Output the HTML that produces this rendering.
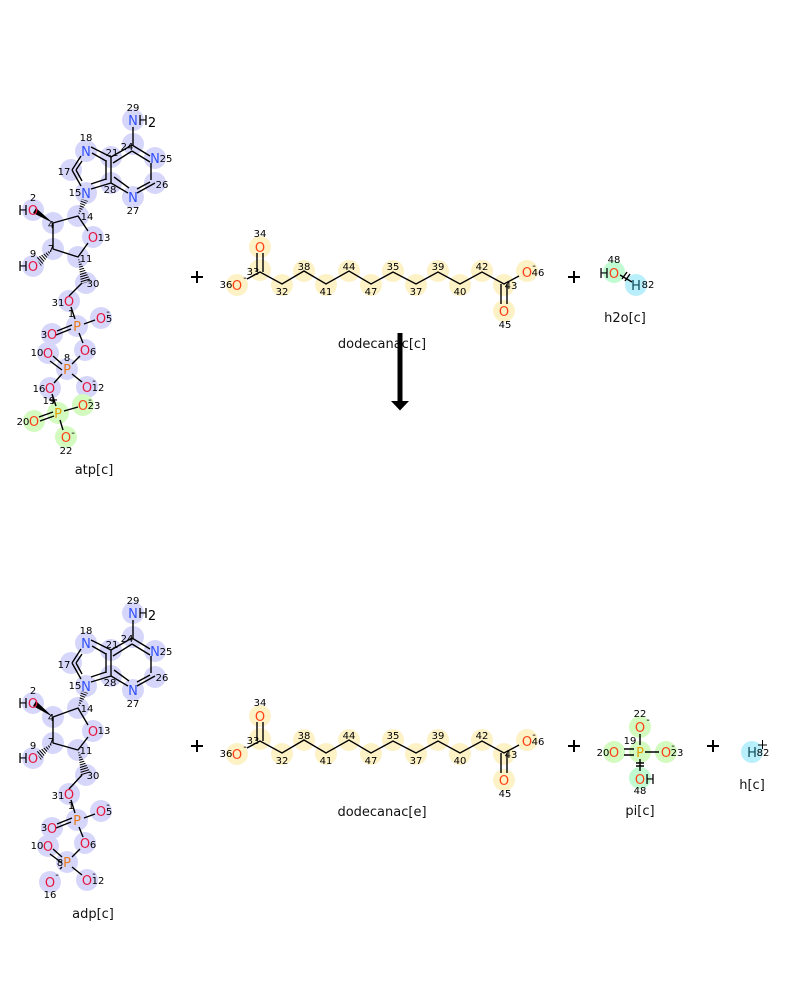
<!DOCTYPE html>
<html><head><meta charset="utf-8">
<style>
html,body{margin:0;padding:0;background:#fff}
svg{display:block}
text{font-family:"DejaVu Sans","Liberation Sans",sans-serif;text-anchor:middle}
circle{r:11px}
.i{font-size:10px;fill:#000}
.s{font-size:13px}
.s text{font-size:13px}
.o{fill:#e6173f}.y{fill:#ff3f14}.n{fill:#3050f8}.p{fill:#e87a1c}.g{fill:#e0a000}.k{fill:#000}.t{fill:#0b4a5a}
.l{font-size:13px;fill:#111}
.b{stroke:#000;stroke-width:1.4;fill:none}
.c1 circle{fill:#d6d6fb}.c2 circle{fill:#fdf1c6}.c3 circle{fill:#d3fbbf}
</style></head><body>
<svg width="800" height="1000" viewBox="0 0 800 1000" xmlns="http://www.w3.org/2000/svg">
<rect width="800" height="1000" fill="#fff"/>
<defs>
<clipPath id="w1"><polygon points="78,216 81,199 88,201"/></clipPath>
<clipPath id="w2"><polygon points="53,249 36,258 41,266"/></clipPath>
<clipPath id="w3"><polygon points="78,257 81,284 91,281"/></clipPath>
<clipPath id="w4"><polygon points="78,708 81,691 88,693"/></clipPath>
<clipPath id="w5"><polygon points="53,743 36,752 41,760"/></clipPath>
<clipPath id="w6"><polygon points="78,750 81,776 91,773"/></clipPath>
</defs>

<!-- ATP -->
<g class="c1">
<circle cx="133" cy="120" r="10"/><circle cx="133" cy="144" r="10"/><circle cx="155" cy="158" r="10"/><circle cx="155" cy="183" r="10"/><circle cx="133" cy="197" r="10"/><circle cx="111" cy="183" r="10"/><circle cx="111" cy="157" r="10"/><circle cx="86" cy="151" r="10"/><circle cx="71" cy="170" r="10"/><circle cx="86" cy="193" r="10"/><circle cx="78" cy="216" r="10"/><circle cx="93" cy="237" r="10"/><circle cx="78" cy="257" r="10"/><circle cx="53" cy="249" r="10"/><circle cx="53" cy="223" r="10"/><circle cx="33" cy="210" r="10"/><circle cx="33" cy="266" r="10"/><circle cx="86" cy="283" r="10"/><circle cx="69" cy="301" r="10"/><circle cx="77" cy="326" r="10"/><circle cx="101" cy="318" r="10"/><circle cx="52" cy="334" r="10"/><circle cx="85" cy="350" r="10"/><circle cx="67" cy="369" r="10"/><circle cx="48" cy="353" r="10"/><circle cx="87" cy="387" r="10"/><circle cx="50" cy="388" r="10"/>
</g>
<g class="c3"><circle cx="58" cy="413" r="10"/><circle cx="83" cy="405" r="10"/><circle cx="34" cy="421" r="10"/><circle cx="66" cy="437" r="10"/></g>
<path class="b" d="M133 127V145M132 145L150 156M132 151L150 162M151 163V180M155 183L137 193M150 182L137 189M128 193L111 183M129 188L114 177M111 183V157M106 180V160M111 157L132 145M113 163L132 151M91 147L111 157M92 153L106 161M91 189L111 183M91 184L106 179M72 170L81 156M76 170L82 161M72 170L81 186M76 170L82 181M78 216L53 223M78 216L88 231M88 243L78 257M78 257L53 249M53 249V223M82 283L69 296M71 307L75 319M84 324L95 320M72 325L57 331M71 329L56 335M79 333L83 343M80 356L72 364M53 356L62 364M50 361L62 370M72 374L82 382M62 374L54 383M52 394L56 406M64 411L78 407M53 412L39 417M54 416L40 421M60 420L63 430"/>
<path d="M53 223L33 213L36 208Z" fill="#000"/>
<g clip-path="url(#w1)"><line x1="78" y1="216" x2="85" y2="198" stroke="#000" stroke-width="10" stroke-dasharray="1 1.4"/></g>
<g clip-path="url(#w2)"><line x1="53" y1="249" x2="37" y2="263" stroke="#000" stroke-width="12" stroke-dasharray="1 1.4"/></g>
<g clip-path="url(#w3)"><line x1="78" y1="257" x2="86" y2="284" stroke="#000" stroke-width="14" stroke-dasharray="1 1.4"/></g>
<g class="s">
<text class="n" x="133" y="125">N</text><text class="k" x="143" y="125">H</text><text class="k" x="152" y="127">2</text>
<text class="n" x="155" y="163">N</text><text class="n" x="133" y="202">N</text><text class="n" x="86" y="156">N</text><text class="n" x="86" y="198">N</text>
<text class="o" x="93" y="242">O</text><text class="o" x="33" y="215">O</text><text class="k" x="23" y="215">H</text><text class="o" x="33" y="271">O</text><text class="k" x="23" y="271">H</text>
<text class="o" x="69" y="306">O</text><text class="p" x="77" y="331">P</text><text class="o" x="101" y="323">O</text><text class="o" x="52" y="339">O</text><text class="o" x="85" y="355">O</text><text class="p" x="67" y="374">P</text><text class="o" x="48" y="358">O</text><text class="o" x="87" y="392">O</text><text class="o" x="50" y="393">O</text>
<text class="g" x="58" y="418">P</text><text class="y" x="83" y="410">O</text><text class="y" x="34" y="426">O</text><text class="y" x="66" y="442">O</text>
</g>
<g class="i">
<text x="133" y="111">29</text><text x="127" y="150">24</text><text x="166" y="162">25</text><text x="162" y="188">26</text><text x="133" y="214">27</text><text x="110" y="193">28</text><text x="112" y="156">21</text><text x="86" y="141">18</text><text x="64" y="175">17</text><text x="75" y="196">15</text><text x="87" y="220">14</text><text x="104" y="241">13</text><text x="86" y="262">11</text><text x="51" y="252">7</text><text x="51" y="228">4</text><text x="33" y="201">2</text><text x="33" y="257">9</text><text x="93" y="287">30</text>
<text x="58" y="306">31</text><text x="71" y="317">1</text><text x="109" y="322">5</text><text x="44" y="338">3</text><text x="93" y="355">6</text><text x="67" y="361">8</text><text x="37" y="356">10</text><text x="98" y="391">12</text><text x="39" y="392">16</text><text x="49" y="404">19</text><text x="94" y="409">23</text><text x="23" y="425">20</text><text x="66" y="454">22</text>
<text x="108" y="315">-</text><text x="94" y="384">-</text><text x="90" y="403">-</text><text x="73" y="436">-</text>
<text x="53" y="404" style="font-size:13px">+</text>
</g>
<text class="l" x="94" y="474">atp[c]</text>

<!-- dodecanoate top -->
<g>
<g class="c2"><circle cx="260" cy="247" r="10"/><circle cx="260" cy="270" r="10"/><circle cx="237" cy="285" r="10"/><circle cx="282" cy="285" r="10"/><circle cx="304" cy="271" r="10"/><circle cx="326" cy="285" r="10"/><circle cx="349" cy="271" r="10"/><circle cx="371" cy="285" r="10"/><circle cx="393" cy="271" r="10"/><circle cx="416" cy="285" r="10"/><circle cx="438" cy="271" r="10"/><circle cx="460" cy="285" r="10"/><circle cx="482" cy="271" r="10"/><circle cx="504" cy="285" r="10"/><circle cx="504" cy="311" r="10"/><circle cx="527" cy="271" r="10"/></g>
<path class="b" d="M247 279L260 272L282 284L304 271L326 284L349 271L371 284L393 272L416 284L438 272L460 284L482 272L504 284L519 276M257 253V272M263 253V272M501 284V304M507 284V304"/>
<g class="s"><text class="y" x="260" y="252">O</text><text class="y" x="237" y="290">O</text><text class="y" x="504" y="316">O</text><text class="y" x="527" y="277">O</text></g>
<g class="i"><text x="260" y="237">34</text><text x="253" y="275">33</text><text x="226" y="288">36</text><text x="282" y="295">32</text><text x="304" y="270">38</text><text x="326" y="295">41</text><text x="349" y="270">44</text><text x="371" y="295">47</text><text x="393" y="270">35</text><text x="416" y="295">37</text><text x="438" y="270">39</text><text x="460" y="295">40</text><text x="482" y="270">42</text><text x="511" y="289">43</text><text x="505" y="328">45</text><text x="538" y="276">46</text><text x="245" y="281">-</text><text x="534" y="269">-</text></g>
</g>
<text class="l" x="382" y="348">dodecanac[c]</text>

<!-- plus -->
<g fill="#000"><rect x="191" y="276" width="12" height="2"/><rect x="196" y="271" width="2" height="12"/><rect x="568" y="276" width="12" height="2"/><rect x="573" y="271" width="2" height="12"/>
<rect x="191" y="745" width="12" height="2"/><rect x="196" y="740" width="2" height="12"/><rect x="568" y="745" width="12" height="2"/><rect x="573" y="740" width="2" height="12"/><rect x="707" y="745" width="12" height="2"/><rect x="712" y="740" width="2" height="12"/></g>

<!-- water -->
<circle cx="614" cy="272" r="10" fill="#c0fbd2"/><circle cx="636" cy="285" r="10" fill="#b9effb"/>
<path class="b" d="M620 275L632 282M622 279L627 272M625 281L630 274"/>
<g class="s"><text class="k" x="604" y="278">H</text><text class="y" x="614" y="278">O</text><text class="t" x="636" y="290">H</text></g>
<g class="i"><text x="614" y="263">48</text><text x="648" y="288">82</text></g>
<text class="l" x="625" y="322">h2o[c]</text>

<!-- arrow -->
<path d="M397.500 333H402.500V401H409L400 410.500L391 401H397.500Z" fill="#000"/>

<!-- ADP -->
<g class="c1">
<circle cx="133" cy="613" r="10"/><circle cx="133" cy="637" r="10"/><circle cx="155" cy="651" r="10"/><circle cx="155" cy="677" r="10"/><circle cx="133" cy="690" r="10"/><circle cx="111" cy="676" r="10"/><circle cx="111" cy="650" r="10"/><circle cx="86" cy="643" r="10"/><circle cx="71" cy="663" r="10"/><circle cx="86" cy="686" r="10"/><circle cx="78" cy="708" r="10"/><circle cx="93" cy="731" r="10"/><circle cx="78" cy="750" r="10"/><circle cx="53" cy="743" r="10"/><circle cx="53" cy="717" r="10"/><circle cx="33" cy="703" r="10"/><circle cx="33" cy="758" r="10"/><circle cx="86" cy="775" r="10"/><circle cx="69" cy="794" r="10"/><circle cx="77" cy="820" r="10"/><circle cx="101" cy="811" r="10"/><circle cx="52" cy="828" r="10"/><circle cx="85" cy="843" r="10"/><circle cx="67" cy="862" r="10"/><circle cx="48" cy="846" r="10"/><circle cx="87" cy="880" r="10"/><circle cx="50" cy="882" r="10"/>
</g>
<path class="b" d="M133 620V638M132 638L150 649M132 644L150 655M151 656V673M155 676L137 686M150 675L137 682M128 686L111 676M129 681L114 670M111 676V650M106 673V653M111 650L132 638M113 656L132 644M91 640L111 650M92 646L106 654M91 682L111 676M91 677L106 672M72 663L81 649M76 663L82 654M72 663L81 679M76 663L82 674M78 708L53 717M78 708L88 725M88 737L78 750M78 750L53 743M53 743V717M82 775L69 789M71 800L75 813M84 818L95 814M72 818L57 824M71 822L56 828M79 827L83 837M80 849L72 857M53 849L62 857M50 854L62 863M72 867L82 875M62 867L60 869"/>
<path d="M53 717L33 706L36 701Z" fill="#000"/>
<g clip-path="url(#w4)"><line x1="78" y1="708" x2="85" y2="690" stroke="#000" stroke-width="10" stroke-dasharray="1 1.4"/></g>
<g clip-path="url(#w5)"><line x1="53" y1="743" x2="37" y2="757" stroke="#000" stroke-width="12" stroke-dasharray="1 1.4"/></g>
<g clip-path="url(#w6)"><line x1="78" y1="750" x2="86" y2="776" stroke="#000" stroke-width="14" stroke-dasharray="1 1.4"/></g>
<g class="s">
<text class="n" x="133" y="618">N</text><text class="k" x="143" y="618">H</text><text class="k" x="152" y="620">2</text>
<text class="n" x="155" y="656">N</text><text class="n" x="133" y="695">N</text><text class="n" x="86" y="648">N</text><text class="n" x="86" y="691">N</text>
<text class="o" x="93" y="736">O</text><text class="o" x="33" y="708">O</text><text class="k" x="23" y="708">H</text><text class="o" x="33" y="763">O</text><text class="k" x="23" y="763">H</text>
<text class="o" x="69" y="799">O</text><text class="p" x="77" y="825">P</text><text class="o" x="101" y="816">O</text><text class="o" x="52" y="833">O</text><text class="o" x="85" y="848">O</text><text class="p" x="67" y="867">P</text><text class="o" x="48" y="851">O</text><text class="o" x="87" y="885">O</text><text class="o" x="50" y="887">O</text>
</g>
<g class="i">
<text x="133" y="604">29</text><text x="127" y="642">24</text><text x="166" y="655">25</text><text x="162" y="681">26</text><text x="133" y="707">27</text><text x="110" y="686">28</text><text x="112" y="648">21</text><text x="86" y="634">18</text><text x="64" y="668">17</text><text x="75" y="689">15</text><text x="87" y="712">14</text><text x="104" y="734">13</text><text x="86" y="754">11</text><text x="51" y="745">7</text><text x="51" y="721">4</text><text x="33" y="694">2</text><text x="33" y="749">9</text><text x="93" y="779">30</text>
<text x="58" y="799">31</text><text x="71" y="809">1</text><text x="109" y="815">5</text><text x="44" y="831">3</text><text x="93" y="848">6</text><text x="60" y="866">8</text><text x="37" y="849">10</text><text x="98" y="884">12</text><text x="50" y="898">16</text><text x="108" y="808">-</text><text x="94" y="877">-</text><text x="57" y="878">-</text>
</g>
<text class="l" x="93" y="918">adp[c]</text>

<!-- dodecanoate bottom -->
<g transform="translate(0,469)">
<g class="c2"><circle cx="260" cy="247" r="10"/><circle cx="260" cy="270" r="10"/><circle cx="237" cy="285" r="10"/><circle cx="282" cy="285" r="10"/><circle cx="304" cy="271" r="10"/><circle cx="326" cy="285" r="10"/><circle cx="349" cy="271" r="10"/><circle cx="371" cy="285" r="10"/><circle cx="393" cy="271" r="10"/><circle cx="416" cy="285" r="10"/><circle cx="438" cy="271" r="10"/><circle cx="460" cy="285" r="10"/><circle cx="482" cy="271" r="10"/><circle cx="504" cy="285" r="10"/><circle cx="504" cy="311" r="10"/><circle cx="527" cy="271" r="10"/></g>
<path class="b" d="M247 279L260 272L282 284L304 271L326 284L349 271L371 284L393 272L416 284L438 272L460 284L482 272L504 284L519 276M257 253V272M263 253V272M501 284V304M507 284V304"/>
<g class="s"><text class="y" x="260" y="252">O</text><text class="y" x="237" y="290">O</text><text class="y" x="504" y="316">O</text><text class="y" x="527" y="277">O</text></g>
<g class="i"><text x="260" y="237">34</text><text x="253" y="275">33</text><text x="226" y="288">36</text><text x="282" y="295">32</text><text x="304" y="270">38</text><text x="326" y="295">41</text><text x="349" y="270">44</text><text x="371" y="295">47</text><text x="393" y="270">35</text><text x="416" y="295">37</text><text x="438" y="270">39</text><text x="460" y="295">40</text><text x="482" y="270">42</text><text x="511" y="289">43</text><text x="505" y="328">45</text><text x="538" y="276">46</text><text x="245" y="281">-</text><text x="534" y="269">-</text></g>
</g>
<text class="l" x="382" y="816">dodecanac[e]</text>

<!-- Pi -->
<g class="c3"><circle cx="640" cy="727" r="10"/><circle cx="640" cy="752" r="10"/><circle cx="614" cy="752" r="10"/><circle cx="666" cy="752" r="10"/></g>
<circle cx="640" cy="778" r="10" fill="#c0fbd2"/>
<path class="b" d="M640 734V745M624 749H634M624 755H634M645 752H659M640 759V771M636 763H644M636 766H644"/>
<g class="s"><text class="y" x="640" y="732">O</text><text class="g" x="640" y="757">P</text><text class="y" x="614" y="757">O</text><text class="y" x="666" y="757">O</text><text class="y" x="640" y="784">O</text><text class="k" x="650" y="784">H</text></g>
<g class="i"><text x="640" y="717">22</text><text x="630" y="744">19</text><text x="603" y="756">20</text><text x="677" y="756">23</text><text x="640" y="794">48</text><text x="648" y="723">-</text><text x="673" y="749">-</text></g>
<text class="l" x="640" y="815">pi[c]</text>

<!-- H+ -->
<circle cx="752" cy="752" r="10" fill="#b9effb"/>
<text class="s t" x="752" y="757">H</text>
<g class="i"><text x="763" y="756">82</text></g>
<path class="b" style="stroke-width:1" d="M758 745H767M762.500 740V749"/>
<text class="l" x="752" y="789">h[c]</text>
</svg>
</body></html>
